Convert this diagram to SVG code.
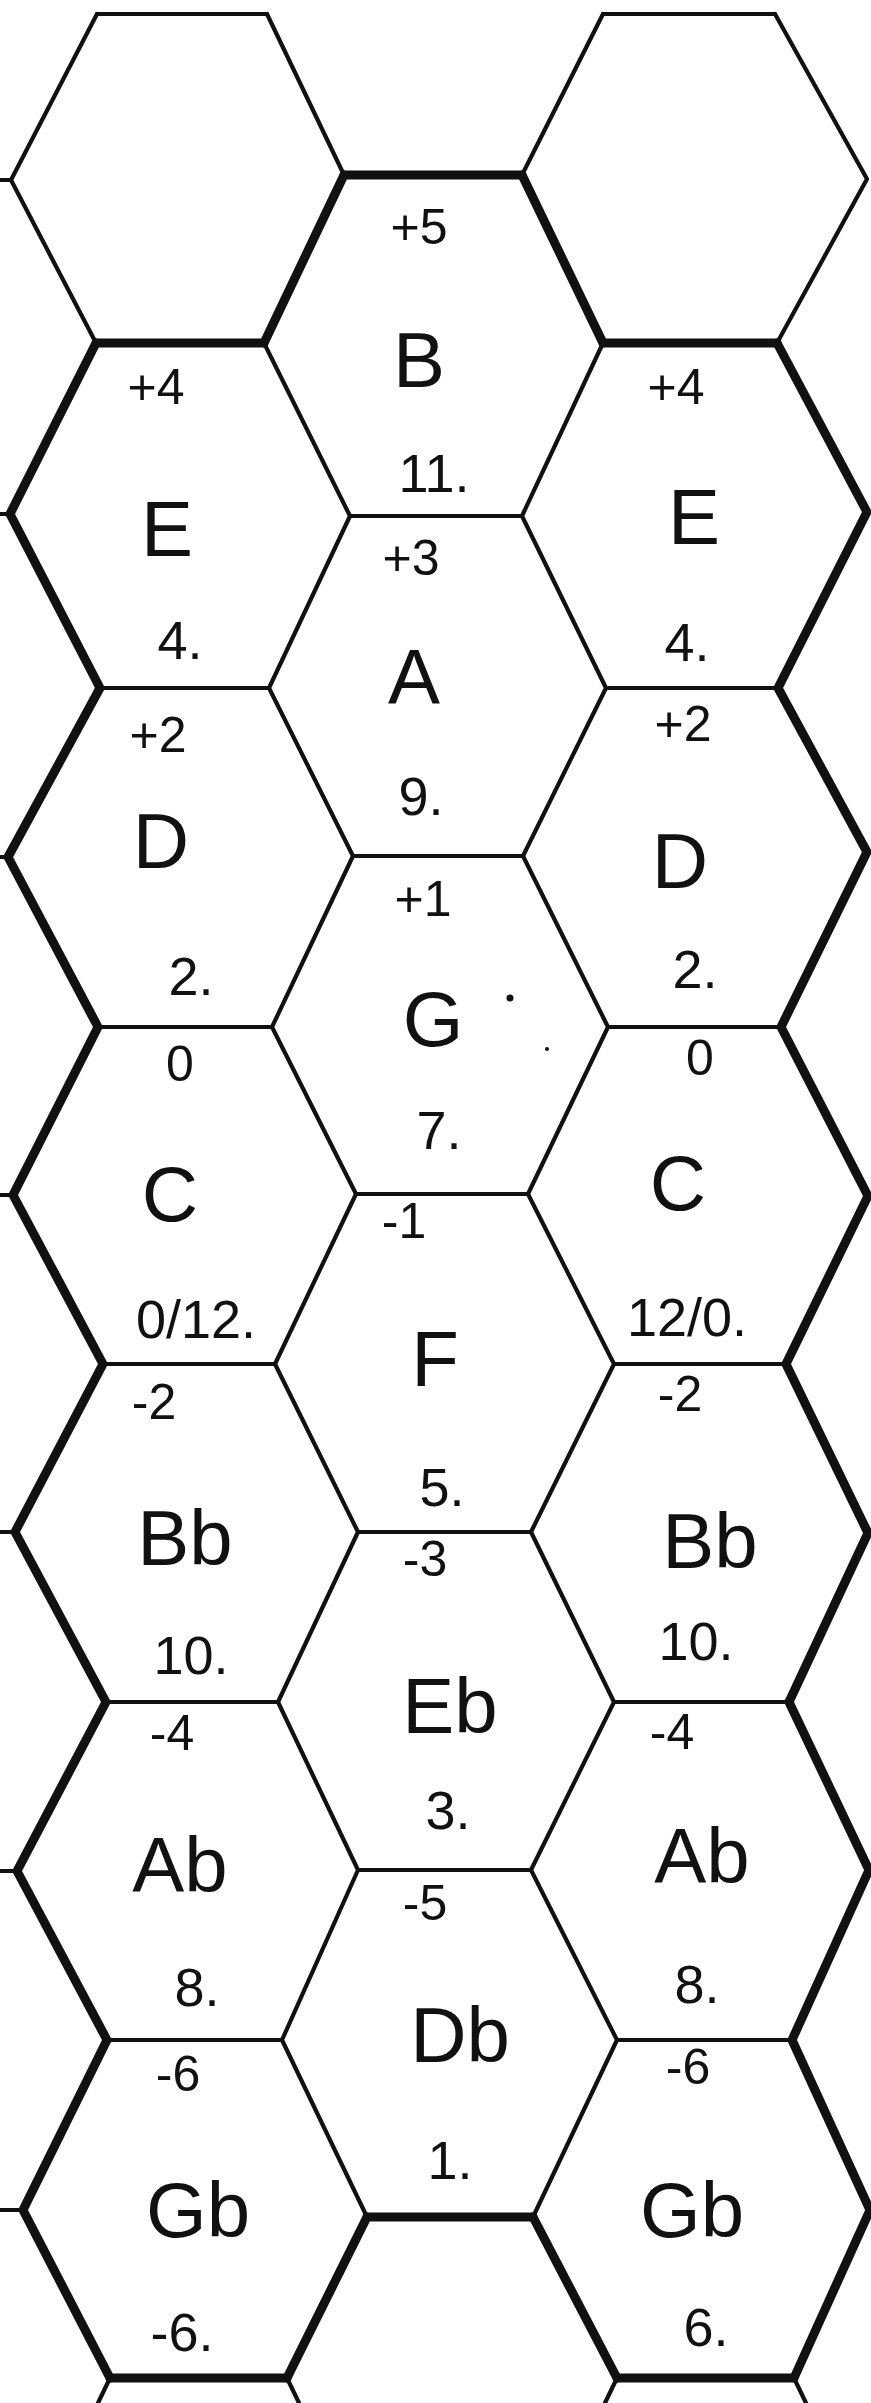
<svg xmlns="http://www.w3.org/2000/svg" width="871" height="2403" viewBox="0 0 871 2403">
<style>
.thin{fill:none;stroke:#111;stroke-width:4.2;stroke-linecap:round;stroke-linejoin:round}
.thick{fill:none;stroke:#111;stroke-width:9;stroke-linecap:round;stroke-linejoin:round}
text{font-family:"Liberation Sans","DejaVu Sans",sans-serif;fill:#111;text-anchor:middle}
.top{font-size:50px}
.note{font-size:78px}
.num{font-size:54px}
</style>
<rect width="871" height="2403" fill="#fff"/>
<g id="grid">
<polyline class="thin" points="97,14 11,180 96,343"/>
<polyline class="thick" points="96,343 10,514 100,688 8,857 98,1027 13,1195 103,1364 15,1532 106,1702 17,1871 107,2040 23,2210 110,2378"/>
<polyline class="thin" points="775,14 867,179 777,343"/>
<polyline class="thick" points="777,343 867,512 778,688 867,852 781,1027 868,1196 786,1364 868,1533 789,1702 869,1870 792,2040 870,2210 794,2378"/>
<line class="thin" x1="97" y1="14" x2="267" y2="14"/>
<line class="thick" x1="96" y1="343" x2="264" y2="343"/>
<line class="thin" x1="100" y1="688" x2="269" y2="688"/>
<line class="thin" x1="98" y1="1027" x2="272" y2="1027"/>
<line class="thin" x1="103" y1="1364" x2="275" y2="1364"/>
<line class="thin" x1="106" y1="1702" x2="278" y2="1702"/>
<line class="thin" x1="107" y1="2040" x2="282" y2="2040"/>
<line class="thick" x1="110" y1="2378" x2="287" y2="2378"/>
<line class="thin" x1="603" y1="14" x2="775" y2="14"/>
<line class="thick" x1="603" y1="343" x2="777" y2="343"/>
<line class="thin" x1="606" y1="688" x2="778" y2="688"/>
<line class="thin" x1="608" y1="1027" x2="781" y2="1027"/>
<line class="thin" x1="614" y1="1364" x2="786" y2="1364"/>
<line class="thin" x1="614" y1="1702" x2="789" y2="1702"/>
<line class="thin" x1="617" y1="2040" x2="792" y2="2040"/>
<line class="thick" x1="617" y1="2378" x2="794" y2="2378"/>
<line class="thick" x1="344" y1="175" x2="522" y2="175"/>
<line class="thin" x1="350" y1="516" x2="522" y2="516"/>
<line class="thin" x1="353" y1="856" x2="523" y2="856"/>
<line class="thin" x1="356" y1="1194" x2="528" y2="1194"/>
<line class="thin" x1="358" y1="1532" x2="531" y2="1532"/>
<line class="thin" x1="358" y1="1870" x2="531" y2="1870"/>
<line class="thick" x1="367" y1="2217" x2="533" y2="2217"/>
<line class="thin" x1="267" y1="14" x2="344" y2="175"/>
<line class="thick" x1="344" y1="175" x2="264" y2="343"/>
<polyline class="thin" points="264,343 350,516 269,688 353,856 272,1027 356,1194 275,1364 358,1532 278,1702 358,1870 282,2040 367,2217"/>
<line class="thick" x1="367" y1="2217" x2="287" y2="2378"/>
<line class="thin" x1="603" y1="14" x2="522" y2="175"/>
<line class="thick" x1="522" y1="175" x2="603" y2="343"/>
<polyline class="thin" points="603,343 522,516 606,688 523,856 608,1027 528,1194 614,1364 531,1532 614,1702 531,1870 617,2040 533,2217"/>
<line class="thick" x1="533" y1="2217" x2="617" y2="2378"/>
<line class="thin" x1="0" y1="180" x2="11" y2="180"/>
<line class="thin" x1="0" y1="514" x2="10" y2="514"/>
<line class="thin" x1="0" y1="857" x2="8" y2="857"/>
<line class="thin" x1="0" y1="1195" x2="13" y2="1195"/>
<line class="thin" x1="0" y1="1532" x2="15" y2="1532"/>
<line class="thin" x1="0" y1="1871" x2="17" y2="1871"/>
<line class="thin" x1="0" y1="2210" x2="23" y2="2210"/>
<line class="thin" x1="98" y1="2403" x2="110" y2="2378"/>
<line class="thin" x1="287" y1="2378" x2="299" y2="2403"/>
<line class="thin" x1="617" y1="2378" x2="605" y2="2403"/>
<line class="thin" x1="794" y1="2378" x2="806" y2="2403"/>
</g>
<g id="hex-top-left"/>
<g id="hex-top-right"/>
<g id="hex-B">
<text class="top" x="419" y="244">+5</text>
<text class="note" x="419" y="387">B</text>
<text class="num" x="434" y="492">11.</text>
</g>
<g id="hex-E-left">
<text class="top" x="156" y="404">+4</text>
<text class="note" x="167" y="556">E</text>
<text class="num" x="180" y="659">4.</text>
</g>
<g id="hex-E-right">
<text class="top" x="676" y="404">+4</text>
<text class="note" x="694" y="544">E</text>
<text class="num" x="687" y="661">4.</text>
</g>
<g id="hex-A">
<text class="top" x="411" y="575">+3</text>
<text class="note" x="414" y="704">A</text>
<text class="num" x="421" y="815">9.</text>
</g>
<g id="hex-D-left">
<text class="top" x="158" y="752">+2</text>
<text class="note" x="161" y="868">D</text>
<text class="num" x="191" y="995">2.</text>
</g>
<g id="hex-D-right">
<text class="top" x="683" y="741">+2</text>
<text class="note" x="680" y="888">D</text>
<text class="num" x="695" y="988">2.</text>
</g>
<g id="hex-G">
<text class="top" x="423" y="916">+1</text>
<text class="note" x="433" y="1046">G</text>
<text class="num" x="439" y="1149">7.</text>
<circle cx="510" cy="998" r="3.5" fill="#111"/>
<circle cx="547" cy="1049" r="2" fill="#111"/>
</g>
<g id="hex-C-left">
<text class="top" x="180" y="1081">0</text>
<text class="note" x="170" y="1221">C</text>
<text class="num" x="196" y="1338">0/12.</text>
</g>
<g id="hex-C-right">
<text class="top" x="700" y="1075">0</text>
<text class="note" x="678" y="1210">C</text>
<text class="num" x="687" y="1336">12/0.</text>
</g>
<g id="hex-F">
<text class="top" x="404" y="1238">-1</text>
<text class="note" x="435" y="1386">F</text>
<text class="num" x="442" y="1506">5.</text>
</g>
<g id="hex-Bb-left">
<text class="top" x="154" y="1419">-2</text>
<text class="note" x="185" y="1565">Bb</text>
<text class="num" x="191" y="1674">10.</text>
</g>
<g id="hex-Bb-right">
<text class="top" x="680" y="1411">-2</text>
<text class="note" x="710" y="1568">Bb</text>
<text class="num" x="696" y="1660">10.</text>
</g>
<g id="hex-Eb">
<text class="top" x="425" y="1576">-3</text>
<text class="note" x="450" y="1733">Eb</text>
<text class="num" x="448" y="1829">3.</text>
</g>
<g id="hex-Ab-left">
<text class="top" x="172" y="1750">-4</text>
<text class="note" x="180" y="1892">Ab</text>
<text class="num" x="197" y="2006">8.</text>
</g>
<g id="hex-Ab-right">
<text class="top" x="672" y="1749">-4</text>
<text class="note" x="702" y="1883">Ab</text>
<text class="num" x="697" y="2003">8.</text>
</g>
<g id="hex-Db">
<text class="top" x="425" y="1920">-5</text>
<text class="note" x="460" y="2062">Db</text>
<text class="num" x="450" y="2179">1.</text>
</g>
<g id="hex-Gb-left">
<text class="top" x="178" y="2091">-6</text>
<text class="note" x="198" y="2237">Gb</text>
<text class="num" x="182" y="2351">-6.</text>
</g>
<g id="hex-Gb-right">
<text class="top" x="688" y="2084">-6</text>
<text class="note" x="692" y="2237">Gb</text>
<text class="num" x="706" y="2346">6.</text>
</g>
<g id="hex-bottom-middle"/>
</svg>
